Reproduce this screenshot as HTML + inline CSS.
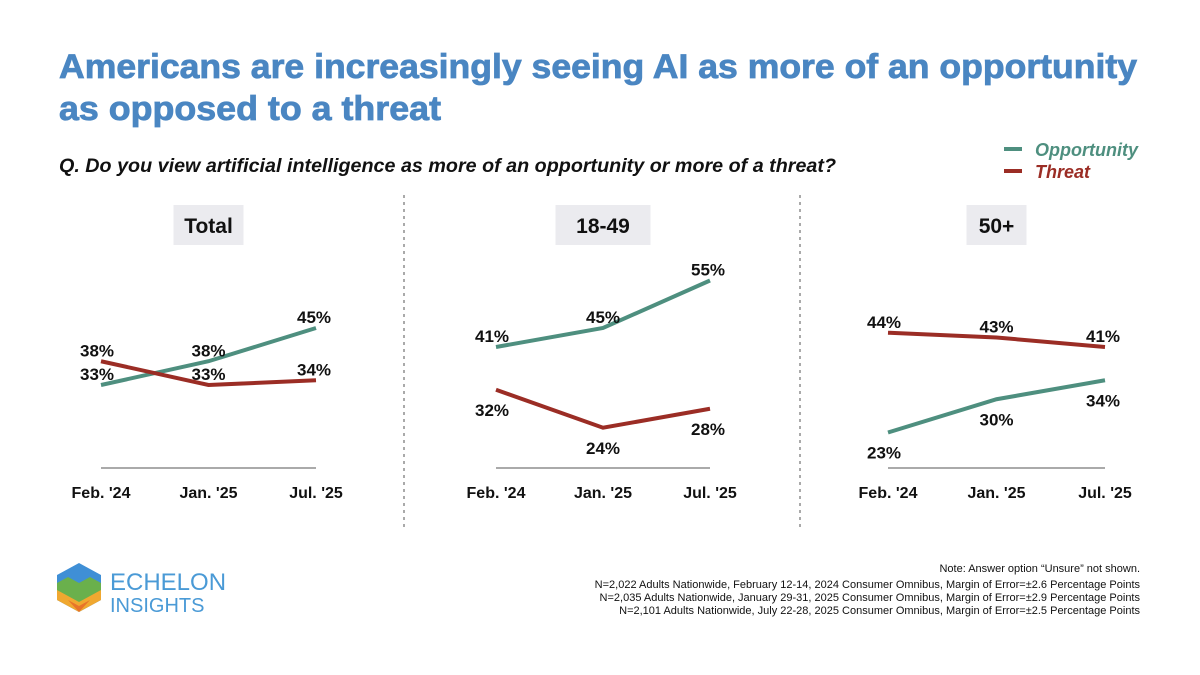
<!DOCTYPE html>
<html><head><meta charset="utf-8">
<style>
body{margin:0;width:1200px;height:675px;background:#fff;overflow:hidden;font-family:"Liberation Sans",sans-serif}
svg{display:block}
</style></head>
<body>
<svg id="c" width="1200" height="675" xmlns="http://www.w3.org/2000/svg">
<text x="59" y="78" font-size="34" font-weight="bold" fill="#4a86c2" textLength="1078" lengthAdjust="spacingAndGlyphs" stroke="#4a86c2" stroke-width="0.8">Americans are increasingly seeing AI as more of an opportunity</text>
<text x="59" y="120" font-size="34" font-weight="bold" fill="#4a86c2" textLength="382" lengthAdjust="spacingAndGlyphs" stroke="#4a86c2" stroke-width="0.8">as opposed to a threat</text>
<text x="59" y="172" font-size="19" font-weight="bold" font-style="italic" fill="#111" textLength="777" lengthAdjust="spacingAndGlyphs">Q. Do you view artificial intelligence as more of an opportunity or more of a threat?</text>
<g>
<line x1="1004" y1="149" x2="1022" y2="149" stroke="#4e8f7f" stroke-width="4"/>
<text x="1035" y="156" font-size="18" font-weight="bold" font-style="italic" fill="#4e8f7f">Opportunity</text>
<line x1="1004" y1="171" x2="1022" y2="171" stroke="#9b2d25" stroke-width="4"/>
<text x="1035" y="178" font-size="18" font-weight="bold" font-style="italic" fill="#9b2d25">Threat</text>
</g>
<line x1="404" y1="195" x2="404" y2="530" stroke="#aaa" stroke-width="2" stroke-dasharray="3,4"/>
<line x1="800" y1="195" x2="800" y2="530" stroke="#aaa" stroke-width="2" stroke-dasharray="3,4"/>
<g>
<polygon points="79,563 101,575 101,600 79,612 57,600 57,575" fill="#3f8fd6"/>
<polygon points="57,583 79,595 101,583 101,600 79,612 57,600" fill="#f0a830"/>
<polygon points="68,577 79,583 90,577 101,583 101,590 79,602 57,590 57,583" fill="#6ab04c"/>
<polygon points="68,600 79,606 90,600 79,612" fill="#e8742a"/>
<text x="110" y="590" font-size="24" fill="#4a9ad6">ECHELON</text>
<text x="110" y="612" font-size="20" fill="#4a9ad6">INSIGHTS</text>
</g>
<g font-size="11" fill="#111" text-anchor="end">
<text x="1140" y="572">Note: Answer option “Unsure” not shown.</text>
<text x="1140" y="588">N=2,022 Adults Nationwide, February 12-14, 2024 Consumer Omnibus, Margin of Error=±2.6 Percentage Points</text>
<text x="1140" y="601">N=2,035 Adults Nationwide, January 29-31, 2025 Consumer Omnibus, Margin of Error=±2.9 Percentage Points</text>
<text x="1140" y="614">N=2,101 Adults Nationwide, July 22-28, 2025 Consumer Omnibus, Margin of Error=±2.5 Percentage Points</text>
</g>
</svg>
<script>
const categories = ["Feb. '24", "Jan. '25", "Jul. '25"];
const panels = ["Total", "18-49", "50+"];
const opportunity = [[33, 38, 45], [41, 45, 55], [23, 30, 34]];
const threat = [[38, 33, 34], [32, 24, 28], [44, 43, 41]];
const oppAbove = [true, true, false];

const NS = "http://www.w3.org/2000/svg";
const svg = document.getElementById('c');
const panelX = [[101, 316], [496, 710], [888, 1105]];
const boxW = [70, 95, 60];
function y(v) { return 541.75 - 4.75 * v; }
function x(p, i) { return panelX[p][0] + (panelX[p][1] - panelX[p][0]) * i / (categories.length - 1); }
function mk(tag, attrs, parent) {
  const e = document.createElementNS(NS, tag);
  for (const k in attrs) e.setAttribute(k, attrs[k]);
  (parent || svg).appendChild(e);
  return e;
}
panels.forEach((name, p) => {
  const g = mk('g', {});
  
  
  const mid = (panelX[p][0] + panelX[p][1]) / 2;
  const bx = mk('rect', { x: mid - boxW[p] / 2, y: 205, width: boxW[p], height: 40, fill: '#ebebef' }, g);
  
  
  const ht = mk('text', { x: mid, y: 233, 'font-size': 21, 'font-weight': 'bold', 'text-anchor': 'middle', fill: '#111' }, g);
  ht.textContent = name;
  
  
  const ax = mk('line', { x1: panelX[p][0], x2: panelX[p][1], y1: 468, y2: 468, stroke: '#555', 'stroke-width': 1 }, g);
  
  
  categories.forEach((c, i) => {
    const t = mk('text', { x: x(p, i), y: 498, 'font-size': 16, 'font-weight': 'bold', 'text-anchor': 'middle', fill: '#111' }, g);
    t.textContent = c;
    
    
  });
  [[opportunity[p], '#4e8f7f', 'opportunity', oppAbove[p]], [threat[p], '#9b2d25', 'threat', !oppAbove[p] || p === 0]].forEach(([vals, col, nm, above]) => {
    const pts = vals.map((v, i) => x(p, i) + ',' + y(v)).join(' ');
    const l = mk('polyline', { points: pts, fill: 'none', stroke: col, 'stroke-width': 4 }, g);
    
    
    vals.forEach((v, i) => {
      const dx = i === 0 ? -4 : (i === 2 ? -2 : 0);
      const t = mk('text', { x: x(p, i) + dx, y: y(v) + (above ? -5 : 26), 'font-size': 17, 'font-weight': 'bold', 'text-anchor': 'middle', fill: '#111' }, g);
      t.textContent = v + '%';
      
      
    });
  });
});
</script>
</body></html>
